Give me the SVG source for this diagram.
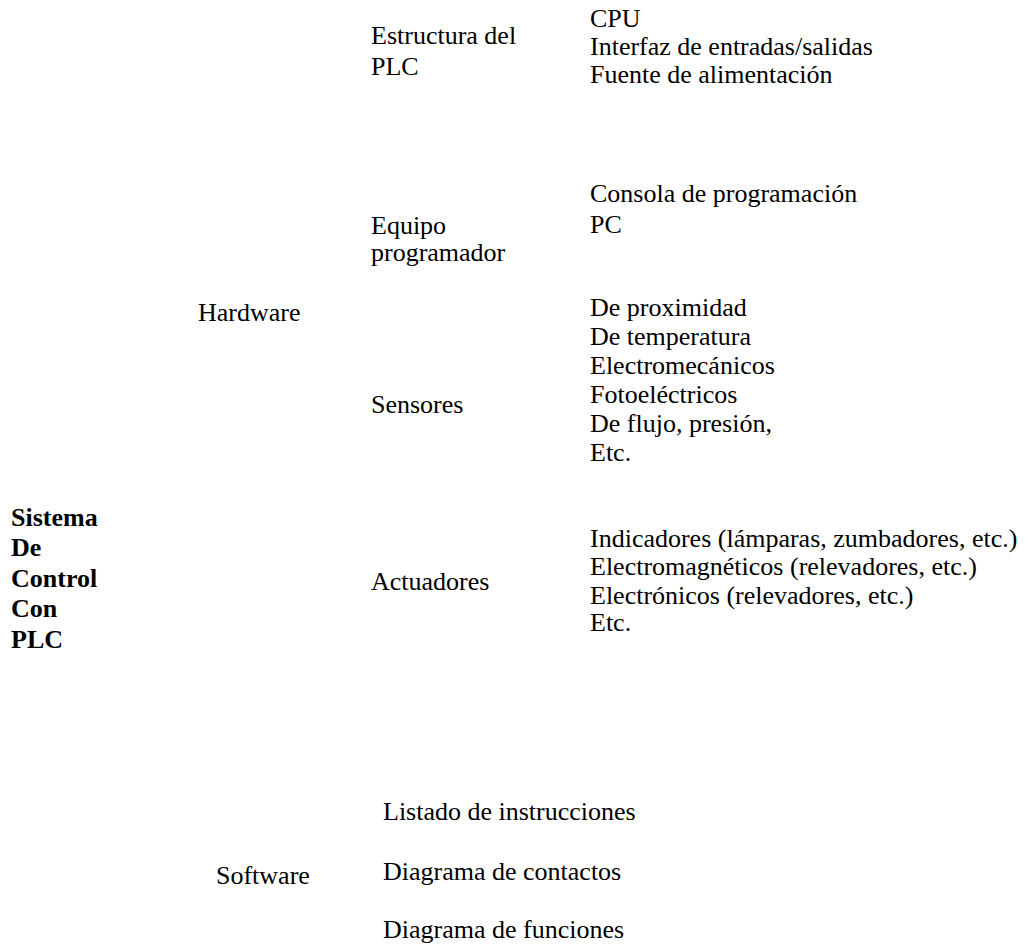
<svg xmlns="http://www.w3.org/2000/svg" width="1031" height="946" viewBox="0 0 1031 946">
<style>
text{font-family:"Liberation Serif","Times New Roman",serif;font-size:26px;fill:#000}
.b{font-weight:bold}
</style>
<rect width="1031" height="946" fill="#fff"/>
<g id="connectors"/>
<g id="root"><text class="b" x="11" y="526">Sistema</text><text class="b" x="11" y="556">De</text><text class="b" x="11" y="587">Control</text><text class="b" x="11" y="617">Con</text><text class="b" x="11" y="648">PLC</text></g>
<g id="hardware"><text x="198" y="321">Hardware</text></g>
<g id="software"><text x="216" y="884">Software</text></g>
<g id="estructura"><text x="371" y="44">Estructura del</text><text x="371" y="75">PLC</text></g>
<g id="estructura-items"><text x="590" y="27">CPU</text><text x="590" y="55">Interfaz de entradas/salidas</text><text x="590" y="83">Fuente de alimentación</text></g>
<g id="equipo"><text x="371" y="234">Equipo</text><text x="371" y="261">programador</text></g>
<g id="equipo-items"><text x="590" y="202">Consola de programación</text><text x="590" y="233">PC</text></g>
<g id="sensores"><text x="371" y="413">Sensores</text></g>
<g id="sensores-items"><text x="590" y="316">De proximidad</text><text x="590" y="345">De temperatura</text><text x="590" y="374">Electromecánicos</text><text x="590" y="403">Fotoeléctricos</text><text x="590" y="432">De flujo, presión,</text><text x="590" y="461">Etc.</text></g>
<g id="actuadores"><text x="371" y="590">Actuadores</text></g>
<g id="actuadores-items"><text x="590" y="547">Indicadores (lámparas, zumbadores, etc.)</text><text x="590" y="575">Electromagnéticos (relevadores, etc.)</text><text x="590" y="604">Electrónicos (relevadores, etc.)</text><text x="590" y="631">Etc.</text></g>
<g id="software-items"><text x="383" y="820">Listado de instrucciones</text><text x="383" y="880">Diagrama de contactos</text><text x="383" y="938">Diagrama de funciones</text></g>
</svg>
